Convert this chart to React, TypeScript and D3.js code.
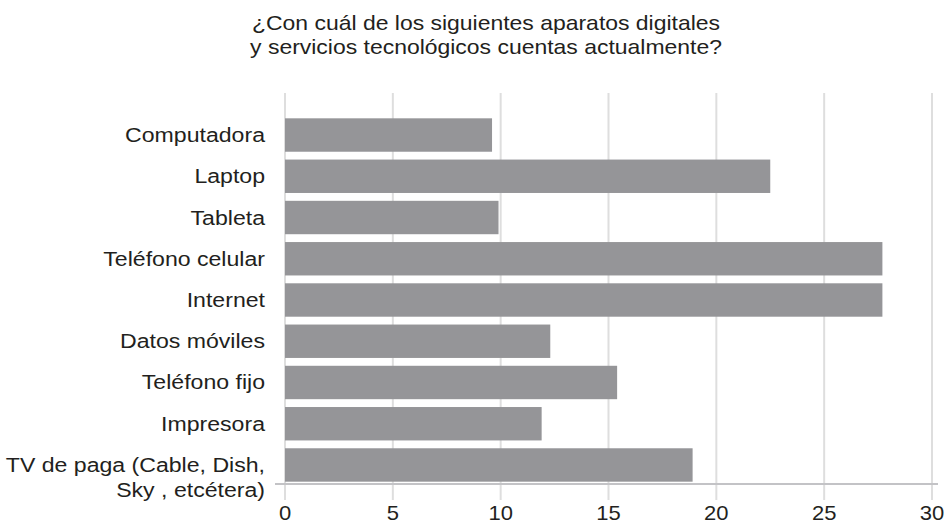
import React from "react";
import * as d3 from "d3";

const titleLines: string[] = [
  "¿Con cuál de los siguientes aparatos digitales",
  "y servicios tecnológicos cuentas actualmente?",
];

const categories: string[][] = [
  ["Computadora"],
  ["Laptop"],
  ["Tableta"],
  ["Teléfono celular"],
  ["Internet"],
  ["Datos móviles"],
  ["Teléfono fijo"],
  ["Impresora"],
  ["TV de paga (Cable, Dish,", "Sky , etcétera)"],
];

const values: number[] = [9.6, 22.5, 9.9, 27.7, 27.7, 12.3, 15.4, 11.9, 18.9];

const tickValues: number[] = [0, 5, 10, 15, 20, 25, 30];

const W = 946;
const H = 526;
const FONT = "'Liberation Sans', Arial, Helvetica, sans-serif";
const TEXT = "#231f20";
const STRETCH = 1.1;

export default function App() {
  const x = d3.scaleLinear().domain([0, 30]).range([285, 932]);
  const ids = categories.map((_, i) => String(i));
  const y = d3
    .scaleBand<string>()
    .domain(ids)
    .range([114.4, 485.6])
    .paddingInner(0.19)
    .paddingOuter(0.095);

  const gridTop = 93;
  const gridBottom = 500;
  const axisY = 484;

  return (
    <div style={{ position: "absolute", left: 0, top: 0 }}>
      <svg width={W} height={H} style={{ display: "block", background: "#fff" }}>
        {/* title */}
        {titleLines.map((t, i) => (
          <text
            key={i}
            transform={`translate(486, ${30 + i * 23.5}) scale(1.12, 1)`}
            textAnchor="middle"
            fontFamily={FONT}
            fontSize={20.5}
            fill={TEXT}
          >
            {t}
          </text>
        ))}

        {/* gridlines */}
        {tickValues.map((t) => (
          <line
            key={t}
            x1={x(t)}
            x2={x(t)}
            y1={gridTop}
            y2={gridBottom}
            stroke="#dedede"
            strokeWidth={2}
          />
        ))}

        {/* bars */}
        {values.map((v, i) => (
          <rect
            key={i}
            x={x(0)}
            y={y(ids[i])}
            width={x(v) - x(0)}
            height={y.bandwidth()}
            fill="#959598"
          />
        ))}

        {/* x axis line */}
        <line x1={275} x2={938} y1={axisY} y2={axisY} stroke="#c3c3c6" strokeWidth={2} />

        {/* category labels */}
        {categories.map((lines, i) => {
          const cy = (y(ids[i]) as number) + y.bandwidth() / 2;
          return lines.map((ln, j) => (
            <text
              key={`${i}-${j}`}
              transform={`translate(265, ${cy + 7 + j * 25}) scale(${STRETCH}, 1)`}
              textAnchor="end"
              fontFamily={FONT}
              fontSize={21}
              fill={TEXT}
            >
              {ln}
            </text>
          ));
        })}

        {/* tick labels */}
        {tickValues.map((t) => (
          <text
            key={t}
            transform={`translate(${x(t)}, 520) scale(${STRETCH}, 1)`}
            textAnchor="middle"
            fontFamily={FONT}
            fontSize={20}
            fill={TEXT}
          >
            {t}
          </text>
        ))}
      </svg>
    </div>
  );
}
